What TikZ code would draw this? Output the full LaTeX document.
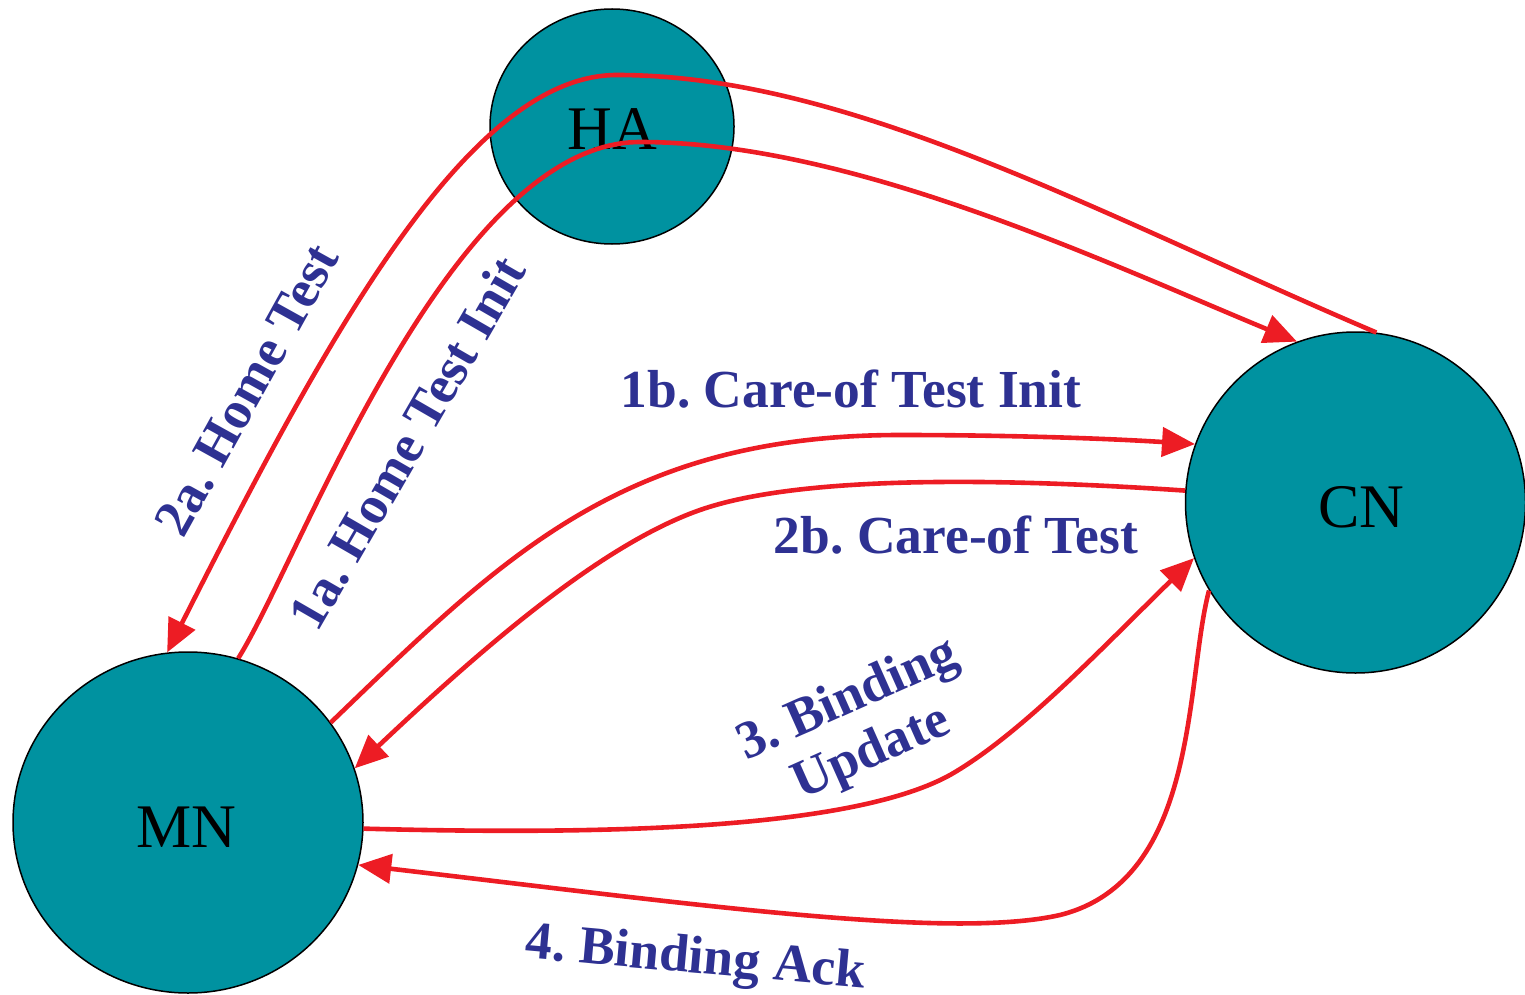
\documentclass[tikz,border=0pt]{standalone}
\usepackage{fontspec}
\setmainfont{Liberation Serif}
\usetikzlibrary{arrows.meta,shapes.geometric}
\definecolor{teal}{RGB}{0,146,160}
\definecolor{msgred}{RGB}{237,28,36}
\definecolor{lblue}{RGB}{46,49,146}
\frenchspacing
\tikzset{
  host/.style={ellipse,draw=black,line width=1.5pt,fill=teal,inner sep=0pt},
  hosttext/.style={anchor=base,inner sep=0pt,text=black,font=\fontsize{62}{62}\selectfont},
  msg/.style={draw=msgred,line width=4.6pt,-{Triangle[length=33pt,width=29pt]}},
  msgtext/.style={inner sep=0pt,text=lblue,font=\fontsize{53.5}{58}\selectfont\bfseries}
}
\begin{document}
\begin{tikzpicture}[x=1pt,y=-1pt]
\useasboundingbox (0,0) rectangle (1525,995);
% hosts
\node[host,minimum width=244pt,minimum height=235pt] (HA) at (612,126.5) {};
\node[host,minimum width=340pt,minimum height=341pt] (CN) at (1355.5,502.5) {};
\node[host,minimum width=350pt,minimum height=341pt] (MN) at (188,822.5) {};
\node[hosttext] (HAt) at (612.5,150) {HA};
\node[hosttext] (CNt) at (1361.5,527) {CN};
\node[hosttext] (MNt) at (186.5,847) {MN};
% 2a. Home Test : CN -> MN over HA
\draw[msg] (CN.83.7) .. controls (1100,215) and (850,75) .. (617,75)
  .. controls (470,75) and (330,330) .. (MN.97.7);
% 1a. Home Test Init : MN -> CN through HA
\draw[msg] (MN.73.4) .. controls (300,560) and (450,142) .. (640,142)
  .. controls (850,142) and (1100,260) .. (CN.110.8);
% 1b. Care-of Test Init : MN -> CN
\draw[msg] (MN.35.5) .. controls (500,560) and (620,435) .. (900,435)
  .. controls (1000,435) and (1100,438) .. (CN.160.2);
% 2b. Care-of Test : CN -> MN
\draw[msg] (CN.176.6) .. controls (1000,478) and (800,475) .. (700,510)
  .. controls (600,545) and (480,650) .. (MN.18.8);
% 3. Binding Update : MN -> CN
\draw[msg] (MN.-2.6) .. controls (600,835) and (850,830) .. (950,775)
  .. controls (1020,735) and (1100,650) .. (CN.199.9);
% 4. Binding Ack : CN -> MN
\draw[msg] (CN.211.4) .. controls (1185,680) and (1200,880) .. (1060,915)
  .. controls (950,940) and (700,905) .. (MN.-14.9);
% labels
\node[msgtext,rotate=61] (l2a) at (247,390) {2a. Home Test};
\node[msgtext,rotate=60] (l1a) at (407,443) {1a. Home Test Init};
\node[msgtext,anchor=base] (l1b) at (851,407) {1b. Care-of Test Init};
\node[msgtext,anchor=base] (l2b) at (956,553) {2b. Care-of Test};
\node[msgtext,rotate=24,align=center] (l3) at (860,727) {3. Binding\\Update};
\node[msgtext,rotate=-5.1,anchor=base] (l4) at (694.5,973) {4. Binding Ack};
\end{tikzpicture}
\end{document}
